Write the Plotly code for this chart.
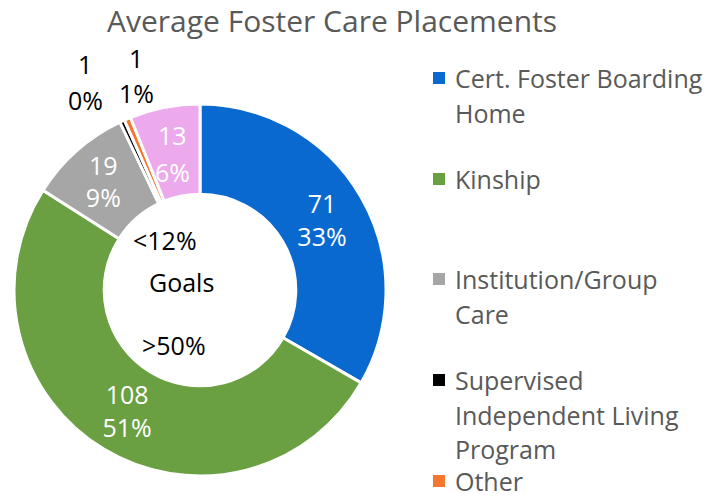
import plotly.graph_objects as go

# ---- data ----
categories = ["Cert. Foster Boarding Home", "Kinship", "Institution/Group Care",
              "Supervised Independent Living Program", "Other", "Unlisted"]
values = [71, 108, 19, 0.9, 1.2, 13]
colors = ["#0A69CF", "#6A9F42", "#A6A6A6", "#000000", "#F5772F", "#ECA9EC"]
legend_lines = [["Cert. Foster Boarding", "Home"], ["Kinship"], ["Institution/Group", "Care"],
                ["Supervised", "Independent Living", "Program"], ["Other"]]
goal_texts = ["<12%", "Goals", ">50%"]
title_text = "Average Foster Care Placements"

W, H = 727, 504
FONT = "Open Sans"
LBL = 25
total = sum(values)

textpos = ["inside", "inside", "inside", "none", "none", "none"]

fig = go.Figure()
fig.add_trace(go.Pie(
    labels=categories, values=values, sort=False, direction="clockwise", rotation=0,
    hole=0.515, showlegend=False,
    marker=dict(colors=colors, line=dict(color="white", width=3)),
    texttemplate="%{value:.0f}<br>%{percent:.0%}",
    textposition=textpos, insidetextorientation="horizontal",
    textfont=dict(family=FONT, size=LBL, color="white"),
    domain=dict(x=[14 / W, 386 / W], y=[1 - 476 / H, 1 - 104 / H]),
    hoverinfo="label+value+percent",
))

def px(x):
    return x / W

def py(y):
    return 1 - y / H

ann = []
# title
ann.append(dict(text=title_text, x=px(332), y=py(21), xref="paper", yref="paper",
                showarrow=False, xanchor="center", yanchor="middle", borderpad=0,
                font=dict(family=FONT, size=30, color="#595959")))
# labels placed by hand for slices too thin for inside/outside text
label_pos = {3: (85, 64, 100, "black"), 4: (136, 58, 93, "black"), 5: (172, 135, 172, "white")}
for i, (cx, y1, y2, col) in label_pos.items():
    v = values[i]
    for t, yy in ((f"{v:.0f}", y1), (f"{v / total:.0%}", y2)):
        ann.append(dict(text=t, x=px(cx), y=py(yy), xref="paper", yref="paper",
                        showarrow=False, xanchor="center", yanchor="middle", borderpad=0,
                        font=dict(family=FONT, size=LBL, color=col)))
# center goal texts
for t, (cx, cy) in zip(goal_texts, [(165, 240), (181, 282), (174, 345)]):
    ann.append(dict(text=t, x=px(cx), y=py(cy), xref="paper", yref="paper",
                    showarrow=False, xanchor="center", yanchor="middle", borderpad=0,
                    font=dict(family=FONT, size=LBL, color="black")))
# legend
legend_y = [[78, 113], [179], [279, 314], [380, 415, 449], [481]]
shapes = []
for lines, ys, col in zip(legend_lines, legend_y, colors):
    shapes.append(dict(type="rect", xref="paper", yref="paper",
                       x0=px(433), x1=px(445), y0=py(ys[0] + 6), y1=py(ys[0] - 6),
                       fillcolor=col, line=dict(width=0)))
    for t, yy in zip(lines, ys):
        ann.append(dict(text=t, x=px(454), y=py(yy), xref="paper", yref="paper",
                        showarrow=False, xanchor="left", yanchor="middle", borderpad=0,
                        font=dict(family=FONT, size=25, color="#595959")))

fig.update_layout(width=W, height=H, margin=dict(l=0, r=0, t=0, b=0),
                  paper_bgcolor="white", plot_bgcolor="white",
                  annotations=ann, shapes=shapes, showlegend=False)
fig.write_html("out.html", config={"displayModeBar": False},
               post_script="document.body.style.margin='0';")
